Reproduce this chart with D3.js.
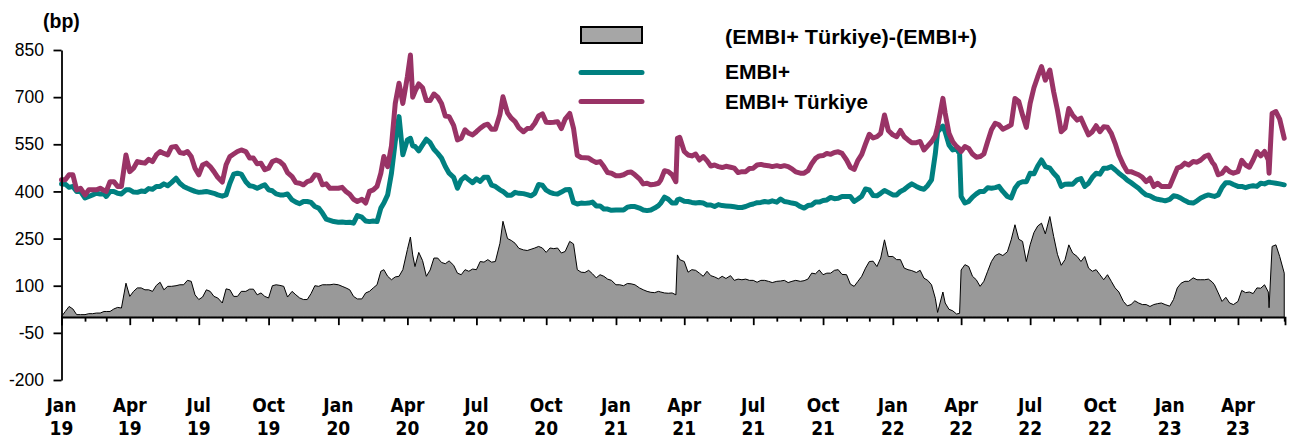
<!DOCTYPE html>
<html><head><meta charset="utf-8">
<script src="https://cdn.jsdelivr.net/npm/d3@7"></script>
<style>
html,body{margin:0;padding:0;background:#fff;}
svg{display:block;}
</style></head>
<body>
<svg id="chart" width="1290" height="439"></svg>
<script>
const dates = [
"2019-01-01","2019-01-06","2019-01-11","2019-01-16","2019-01-21","2019-01-26","2019-02-01","2019-02-06","2019-02-11","2019-02-16","2019-02-21","2019-02-26",
"2019-03-01","2019-03-06","2019-03-11","2019-03-16","2019-03-21","2019-03-27","2019-04-01","2019-04-06","2019-04-11","2019-04-16","2019-04-21","2019-04-26",
"2019-05-01","2019-05-06","2019-05-11","2019-05-16","2019-05-21","2019-05-26","2019-06-01","2019-06-06","2019-06-11","2019-06-16","2019-06-21","2019-06-26",
"2019-07-01","2019-07-06","2019-07-11","2019-07-16","2019-07-21","2019-07-26","2019-08-01","2019-08-06","2019-08-11","2019-08-16","2019-08-21","2019-08-26",
"2019-09-01","2019-09-06","2019-09-11","2019-09-16","2019-09-21","2019-09-26","2019-10-01","2019-10-06","2019-10-11","2019-10-16","2019-10-21","2019-10-26",
"2019-11-01","2019-11-06","2019-11-11","2019-11-16","2019-11-21","2019-11-26","2019-12-01","2019-12-06","2019-12-11","2019-12-16","2019-12-21","2019-12-26",
"2020-01-01","2020-01-06","2020-01-11","2020-01-16","2020-01-21","2020-01-26","2020-02-01","2020-02-06","2020-02-11","2020-02-16","2020-02-21","2020-02-26",
"2020-03-01","2020-03-06","2020-03-11","2020-03-16","2020-03-21","2020-03-26","2020-04-01","2020-04-05","2020-04-08","2020-04-11","2020-04-16","2020-04-21","2020-04-26",
"2020-05-01","2020-05-06","2020-05-11","2020-05-16","2020-05-21","2020-05-26","2020-06-01","2020-06-06","2020-06-11","2020-06-16","2020-06-21","2020-06-26",
"2020-07-01","2020-07-06","2020-07-11","2020-07-16","2020-07-21","2020-07-26","2020-08-01","2020-08-05","2020-08-11","2020-08-16","2020-08-21","2020-08-26",
"2020-09-01","2020-09-06","2020-09-11","2020-09-16","2020-09-21","2020-09-26","2020-10-01","2020-10-06","2020-10-11","2020-10-16","2020-10-21","2020-10-26",
"2020-11-01","2020-11-06","2020-11-11","2020-11-16","2020-11-21","2020-11-26","2020-12-01","2020-12-06","2020-12-11","2020-12-16","2020-12-21","2020-12-26",
"2021-01-01","2021-01-06","2021-01-11","2021-01-16","2021-01-21","2021-01-26","2021-02-01","2021-02-06","2021-02-11","2021-02-16","2021-02-21","2021-02-26",
"2021-03-01","2021-03-06","2021-03-11","2021-03-16","2021-03-21","2021-03-23","2021-03-26","2021-04-01","2021-04-06","2021-04-11","2021-04-16","2021-04-21","2021-04-26",
"2021-05-01","2021-05-06","2021-05-11","2021-05-16","2021-05-21","2021-05-26","2021-06-01","2021-06-06","2021-06-11","2021-06-16","2021-06-21","2021-06-26",
"2021-07-01","2021-07-06","2021-07-11","2021-07-16","2021-07-21","2021-07-26","2021-08-01","2021-08-06","2021-08-11","2021-08-16","2021-08-21","2021-08-26",
"2021-09-01","2021-09-06","2021-09-11","2021-09-16","2021-09-21","2021-09-26","2021-10-01","2021-10-06","2021-10-11","2021-10-16","2021-10-21","2021-10-26",
"2021-11-01","2021-11-06","2021-11-11","2021-11-16","2021-11-21","2021-11-26","2021-12-01","2021-12-06",
"2021-12-11","2021-12-16","2021-12-21","2021-12-26",
"2022-01-01","2022-01-06","2022-01-11","2022-01-16","2022-01-21","2022-01-26","2022-02-01","2022-02-06","2022-02-11","2022-02-16","2022-02-21","2022-02-26",
"2022-03-01","2022-03-08","2022-03-11","2022-03-16","2022-03-21","2022-03-26","2022-03-30","2022-04-01","2022-04-06","2022-04-11","2022-04-16","2022-04-21","2022-04-26",
"2022-05-01","2022-05-06","2022-05-11","2022-05-16","2022-05-21","2022-05-26","2022-06-01","2022-06-06","2022-06-11","2022-06-16","2022-06-21","2022-06-26",
"2022-07-01","2022-07-06","2022-07-11","2022-07-16","2022-07-21","2022-07-27","2022-08-01","2022-08-06","2022-08-11","2022-08-16","2022-08-21","2022-08-26",
"2022-09-01","2022-09-06","2022-09-11","2022-09-16","2022-09-21","2022-09-26","2022-10-01","2022-10-06","2022-10-11","2022-10-16","2022-10-21","2022-10-26",
"2022-11-01","2022-11-06","2022-11-11","2022-11-16","2022-11-21","2022-11-26","2022-12-01","2022-12-06","2022-12-11","2022-12-16","2022-12-21","2022-12-26",
"2023-01-01","2023-01-06","2023-01-11","2023-01-16","2023-01-21","2023-01-26","2023-02-01","2023-02-06","2023-02-11","2023-02-16","2023-02-21","2023-02-26",
"2023-03-01","2023-03-06","2023-03-11","2023-03-16","2023-03-21","2023-03-26","2023-04-01","2023-04-06","2023-04-11","2023-04-16","2023-04-21","2023-04-26",
"2023-05-01","2023-05-06","2023-05-11","2023-05-12","2023-05-16","2023-05-21","2023-05-26","2023-06-01"
];
const turkiye = [
437,437,453,453,405,410,389,405,405,405,410,403,
400,431,431,416,416,516,463,474,495,492,490,502,
495,516,527,521,516,541,543,524,521,527,511,474,
453,484,490,479,463,445,430,485,511,519,527,532,
527,506,506,488,490,469,474,495,500,495,484,460,
447,428,426,421,431,435,453,451,421,424,410,410,
410,413,400,391,375,368,375,363,400,405,416,458,
511,479,545,680,744,680,765,834,700,718,742,730,689,
689,710,700,680,640,638,610,564,569,596,585,580,
590,601,610,614,598,598,645,701,650,633,622,602,
590,600,601,617,640,647,620,619,620,622,600,630,
648,601,515,508,507,506,498,492,495,479,460,458,
450,450,453,460,462,453,440,424,426,421,423,426,
436,466,463,453,431,569,572,527,516,513,519,500,511,
498,481,484,479,476,480,477,474,460,463,463,473,
474,484,486,483,482,479,482,479,482,479,472,462,
458,458,466,488,505,513,514,521,518,524,526,521,
500,477,470,499,518,551,582,570,
574,585,643,594,
580,574,594,574,564,555,555,559,532,545,558,577,
605,696,649,585,558,543,535,527,543,537,519,509,511,
519,559,596,617,612,598,605,612,696,686,643,604,
680,730,765,797,754,786,717,659,590,601,664,643,
627,633,606,580,590,609,590,606,604,585,553,516,
484,463,463,458,453,445,431,442,416,426,416,416,
416,445,474,479,490,484,495,493,500,511,516,493,
484,453,458,474,463,458,463,499,484,477,500,527,
513,527,500,458,648,654,630,569
];
const embi = [
424,423,413,416,400,400,379,384,389,394,392,392,
384,400,400,394,392,405,405,398,397,401,400,409,
407,416,416,424,418,428,442,426,416,410,405,400,
397,398,400,397,394,389,385,389,426,455,458,455,
431,418,416,410,416,421,405,402,392,389,389,392,
373,366,361,368,368,365,352,347,331,312,308,304,
302,303,301,302,299,323,318,306,304,306,304,347,
363,389,458,559,638,517,564,569,545,543,529,548,566,
555,534,521,506,479,458,445,410,437,447,437,428,
440,432,445,445,420,416,405,400,388,388,397,394,
393,390,386,394,422,420,404,397,393,392,398,405,
406,365,360,363,362,363,366,354,354,344,344,340,
341,341,341,350,352,352,347,341,339,341,347,355,
363,382,375,363,363,373,376,369,368,365,363,365,363,
357,357,352,358,355,354,353,351,349,349,352,357,
360,364,365,368,366,370,366,376,368,366,363,361,
352,347,355,357,366,366,371,373,381,377,378,384,
384,384,368,376,385,408,405,387,
386,394,403,397,
389,389,400,406,416,424,416,410,407,419,437,520,
590,608,590,548,532,535,520,384,363,368,382,392,400,
400,412,410,412,416,400,384,379,410,426,431,431,
458,456,481,500,479,474,458,445,416,423,424,423,
437,441,416,426,445,458,455,474,474,479,469,458,
447,436,428,419,410,398,389,386,379,375,373,370,
375,386,384,378,371,365,363,370,379,385,389,386,
384,389,413,428,428,422,416,416,412,416,418,416,
426,424,429,429,428,426,424,421
];
const spread = [
2,18,34,26,8,8,8,11,11,13,13,18,
18,18,26,31,29,108,66,82,93,93,87,87,
82,101,111,87,98,98,100,103,103,117,114,71,
56,64,87,82,66,61,45,90,87,66,66,82,
82,89,89,71,77,66,61,100,103,101,98,64,
82,71,61,56,56,75,100,98,103,103,103,105,
103,98,93,87,66,58,58,77,82,93,103,146,
151,130,119,128,130,151,215,255,198,161,206,180,130,
150,188,188,174,170,179,165,140,135,151,146,153,
151,177,175,183,175,177,235,305,250,244,235,219,
214,212,216,220,225,220,206,220,218,220,204,209,
241,233,151,143,142,149,138,125,135,130,121,117,
103,103,100,107,106,103,93,87,82,79,78,82,
80,77,76,77,71,198,183,177,143,151,149,140,130,
146,132,128,122,130,123,132,117,121,119,121,117,
117,111,117,117,114,110,114,115,117,110,114,117,
114,116,121,140,138,150,135,140,140,149,151,136,
135,105,98,114,130,156,177,178,
161,188,246,193,
193,183,183,156,151,148,142,149,124,117,103,60,
15,80,45,25,20,10,12,150,167,161,130,119,98,
114,146,177,196,202,196,208,246,294,248,241,177,
230,269,290,299,265,320,257,200,165,183,230,204,
193,177,193,156,146,151,135,119,135,114,93,80,
50,36,40,52,45,40,40,34,40,43,45,40,
35,56,93,108,114,114,125,119,119,119,121,112,
103,77,50,63,45,40,50,85,78,80,75,93,
92,103,80,30,225,230,193,140
];
const yTicks = [850,700,550,400,250,100,-50,-200];
const quarterNames = ["Jan","Apr","Jul","Oct"];
const legendLabels = ["(EMBI+ Türkiye)-(EMBI+)","EMBI+","EMBI+ Türkiye"];
const unitLabel = "(bp)";

const parse = d3.timeParse("%Y-%m-%d");
const data = dates.map((d,i)=>({date:parse(d), t:turkiye[i], e:embi[i], s:spread[i]}));

const svg = d3.select("#chart");
const x = d3.scaleTime().domain([parse("2019-01-01"), parse("2023-06-02")]).range([61.5, 1285]);
const y = d3.scaleLinear().domain([-200, 850]).range([380, 50]);

const narrow = "'Liberation Sans Narrow','Arial Narrow','DejaVu Sans Condensed',sans-serif";
const sans = "'Liberation Sans',Arial,sans-serif";

// spread area
svg.append("path").datum(data)
  .attr("d", d3.area().x(d=>x(d.date)).y0(y(0)).y1(d=>y(d.s)))
  .attr("fill","#999999").attr("stroke","#000").attr("stroke-width",1).attr("stroke-linejoin","round");

// lines
const lineE = d3.line().x(d=>x(d.date)).y(d=>y(d.e));
const lineT = d3.line().x(d=>x(d.date)).y(d=>y(d.t));
svg.append("path").datum(data).attr("d",lineE).attr("fill","none")
  .attr("stroke","#008080").attr("stroke-width",5).attr("stroke-linejoin","round").attr("stroke-linecap","round");
svg.append("path").datum(data).attr("d",lineT).attr("fill","none")
  .attr("stroke","#993366").attr("stroke-width",5).attr("stroke-linejoin","round").attr("stroke-linecap","round");

// y axis
const yAxis = d3.axisLeft(y).tickValues(yTicks).tickFormat(d=>String(d)).tickSize(8).tickSizeOuter(0).tickPadding(9.5);
const gy = svg.append("g").attr("transform","translate(61.5,0)").call(yAxis);
gy.select(".domain").attr("stroke","#000").attr("stroke-width",1.8);
gy.selectAll(".tick line").attr("stroke","#000").attr("stroke-width",1.8);
gy.selectAll(".tick text").attr("font-family",sans).attr("font-size",17.5).attr("fill","#000");

// x axis at zero
const months = d3.timeMonth.range(parse("2019-01-01"), parse("2023-06-02"));
const xAxis = d3.axisBottom(x).tickValues(months).tickFormat("").tickSizeOuter(0).tickSize(8);
const gx = svg.append("g").attr("transform",`translate(0,${y(0)})`).call(xAxis);
gx.select(".domain").attr("stroke","#000").attr("stroke-width",1.8);
gx.selectAll(".tick line").attr("stroke","#000").attr("stroke-width",1.8)
  .attr("y2", d => d.getMonth()%3===0 ? 8 : 4.5);

// x labels
const quarters = months.filter(d=>d.getMonth()%3===0);
const xl = svg.append("g").selectAll("text").data(quarters).join("text")
  .attr("x", d=>x(d)).attr("text-anchor","middle")
  .attr("font-family",narrow).attr("font-weight","bold").attr("font-size",19).attr("fill","#000");
xl.append("tspan").attr("x",d=>x(d)).attr("y",411.5).text(d=>quarterNames[d.getMonth()/3]);
xl.append("tspan").attr("x",d=>x(d)).attr("y",435).text(d=>d3.timeFormat("%y")(d));

// unit label
svg.append("text").attr("x",43).attr("y",28).attr("font-family",sans).attr("font-weight","bold")
  .attr("font-size",19.5).text(unitLabel);

// legend
const lg = svg.append("g");
lg.append("rect").attr("x",581).attr("y",27).attr("width",61).attr("height",16)
  .attr("fill","#a6a6a6").attr("stroke","#000").attr("stroke-width",2);
lg.append("line").attr("x1",581).attr("x2",642).attr("y1",72.5).attr("y2",72.5)
  .attr("stroke","#008080").attr("stroke-width",5).attr("stroke-linecap","round");
lg.append("line").attr("x1",581).attr("x2",642).attr("y1",101.5).attr("y2",101.5)
  .attr("stroke","#993366").attr("stroke-width",5).attr("stroke-linecap","round");
const legY = [43.5,79,108.5];
const legW = [252,65,143];
legendLabels.forEach((t,i)=>{
  lg.append("text").attr("x",725).attr("y",legY[i]).attr("font-family",sans).attr("font-weight","bold")
    .attr("font-size",20.5).attr("textLength",legW[i]).attr("lengthAdjust","spacingAndGlyphs").text(t);
});
</script>
</body></html>
